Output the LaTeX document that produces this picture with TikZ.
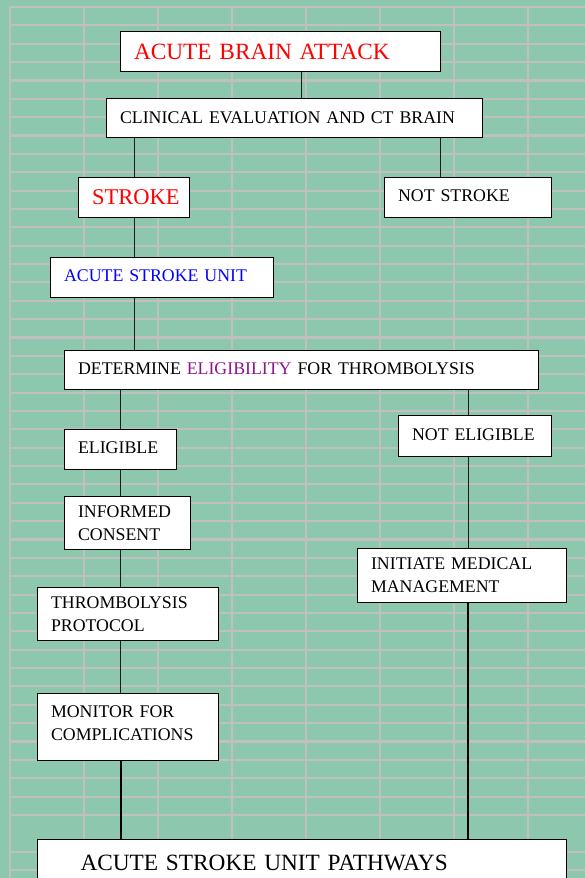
\documentclass[tikz,border=0pt]{standalone}
\usepackage{fontspec}
\setmainfont{Liberation Serif}
\definecolor{bg}{HTML}{8DC8AE}
\definecolor{gridc}{HTML}{C0C0C0}
\definecolor{purp}{RGB}{140,20,140}
\definecolor{lnc}{HTML}{1A1A1A}
\tikzset{
  bx/.style={draw=black, line width=1.1pt, fill=white, anchor=north west,
    inner xsep=13.5pt, inner ysep=0pt, align=left,
    font=\fontsize{17.8}{23}\selectfont},
  big/.style={font=\fontsize{23.3}{28}\selectfont},
  conn/.style={draw=lnc, line width=1pt},
  thick conn/.style={draw=black, line width=2pt},
  gridline/.style={draw=gridc, line width=2.1pt}
}
% name, x, y, w, h, textwidth, options, text
\newcommand\pbox[8]{\node[bx, minimum width=#4pt, minimum height=#5pt, text width=#6pt, #7] (#1) at (#2,#3) {#8};}
\begin{document}
\begin{tikzpicture}[x=1pt,y=-1pt]
\useasboundingbox (0,0) rectangle (585,878);
\clip (0,0) rectangle (585,878);
\fill[bg] (0,0) rectangle (585,878);
\foreach \i in {0,...,7} \draw[gridline] ({10+74*\i},7) -- ({10+74*\i},878);
\foreach \j in {0,...,44,46,47} \draw[gridline] (10,{7+18.363*\j}) -- (585,{7+18.363*\j});

\pbox{title}{120}{31}{320}{40}{293}{big}{\textcolor{red}{ACUTE BRAIN ATTACK}}
\pbox{clin}{106}{98}{376}{39}{349}{}{CLINICAL EVALUATION AND CT BRAIN}
\pbox{strk}{78}{177}{111}{40}{84}{font=\fontsize{22.5}{27}\selectfont}{\textcolor{red}{STROKE}}
\pbox{nstrk}{384}{177}{167}{40}{140}{}{NOT STROKE\vspace{3pt}}
\pbox{asu}{50}{257}{223}{40}{196}{}{\textcolor{blue}{ACUTE STROKE UNIT}\vspace{4pt}}
\pbox{det}{64}{350}{474}{39}{447}{}{DETERMINE \textcolor{purp}{ELIGIBILITY} FOR THROMBOLYSIS\vspace{3pt}}
\pbox{elig}{64}{429}{112}{40}{85}{}{ELIGIBLE\vspace{3pt}}
\pbox{nelig}{398}{415}{153}{41}{126}{}{NOT ELIGIBLE\vspace{3pt}}
\pbox{cons}{64}{496}{126}{53}{99}{}{INFORMED\\CONSENT}
\pbox{thr}{37}{587}{181}{53}{154}{}{THROMBOLYSIS\\PROTOCOL}
\pbox{med}{357}{548}{209}{54}{182}{}{INITIATE MEDICAL\\MANAGEMENT}
\pbox{mon}{37}{693}{181}{67}{154}{}{MONITOR FOR\\COMPLICATIONS\vspace{8pt}}
\pbox{path}{37}{839}{529}{47}{443}{big, inner xsep=43pt}{ACUTE STROKE UNIT PATHWAYS}

\draw[conn] (title.south -| 301,0) -- (clin.north -| 301,0);
\draw[conn] (strk.north) -- (strk.north |- clin.south);
\draw[conn] (nstrk.north -| 440,0) -- (clin.south -| 440,0);
\draw[conn] (strk.south) -- (strk.south |- asu.north);
\draw[conn] (strk.south |- asu.south) -- (strk.south |- det.north);
\draw[conn] (elig.north) -- (elig.north |- det.south);
\draw[conn] (nelig.north -| 468,0) -- (det.south -| 468,0);
\draw[conn] (elig.south) -- (elig.south |- cons.north);
\draw[conn] (cons.south -| elig.south) -- (thr.north -| elig.south);
\draw[conn] (thr.south -| elig.south) -- (mon.north -| elig.south);
\draw[conn] (nelig.south -| 468,0) -- (med.north -| 468,0);
\draw[thick conn] (mon.south -| elig.south) -- (path.north -| elig.south);
\draw[thick conn] (med.south -| 468,0) -- (path.north -| 468,0);
\end{tikzpicture}
\end{document}
